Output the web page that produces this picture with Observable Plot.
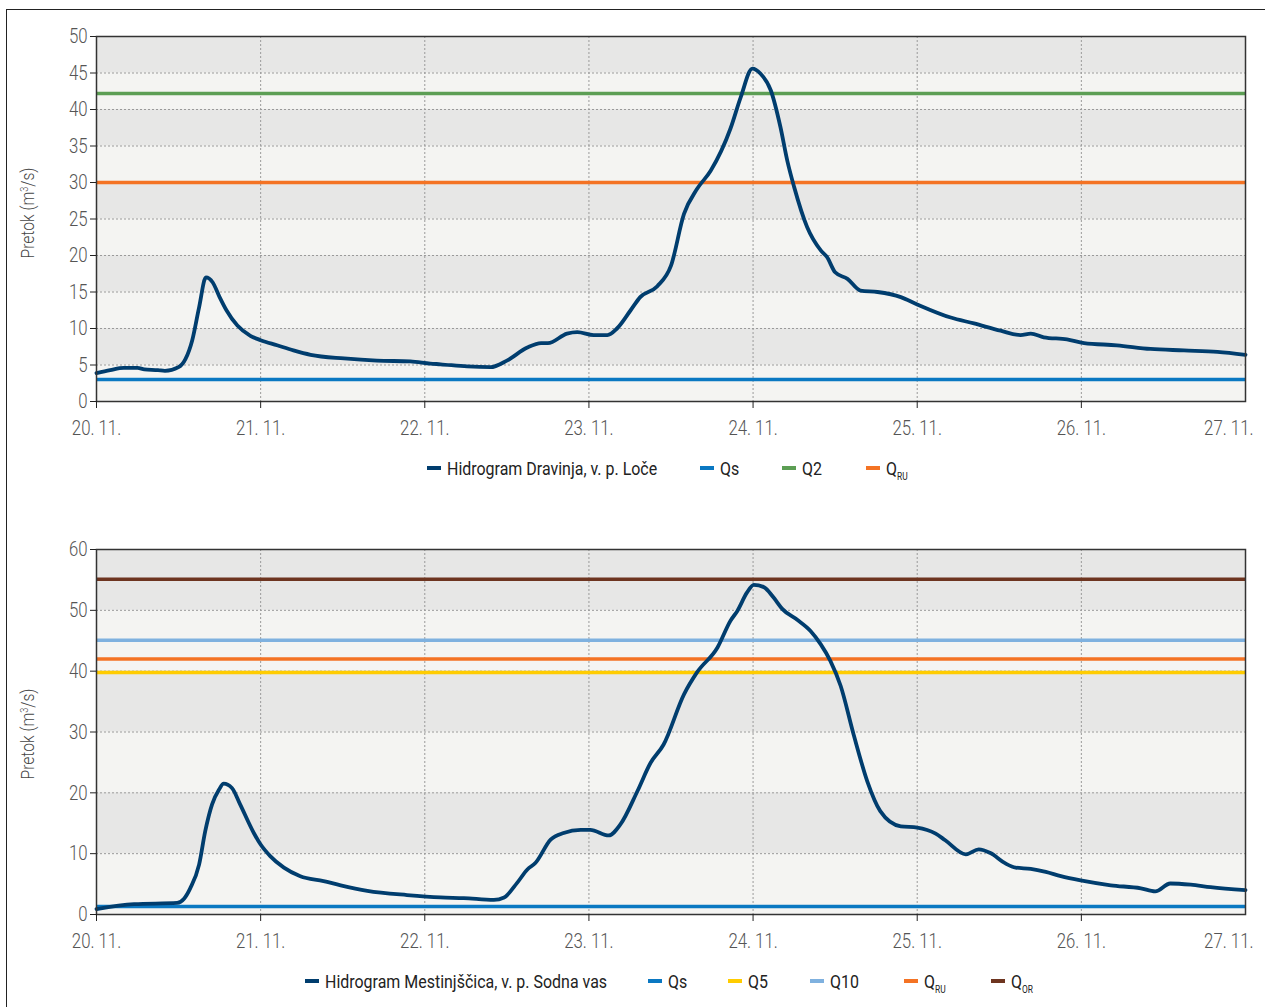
<!DOCTYPE html>
<html><head><meta charset="utf-8">
<script src="https://cdn.jsdelivr.net/npm/d3@7"></script>
<script src="https://cdn.jsdelivr.net/npm/@observablehq/plot@0.6"></script>
<style>
html,body{margin:0;padding:0;overflow:hidden;background:#fff;width:1265px;height:1007px}
body{font-family:Roboto,"DejaVu Sans Condensed",sans-serif;position:relative}
#frame{position:absolute;left:6px;top:9px;width:1320px;height:1100px;border:1.5px solid #222;box-sizing:border-box}
.chart{position:absolute;left:0}
.ylab{position:absolute;font-size:19px;font-weight:300;color:#444;transform:translate(-50%,-50%) rotate(-90deg) scaleX(0.82);white-space:nowrap}
.legend{position:absolute;left:0;width:1265px;height:24px;font-size:19px;color:#222;white-space:nowrap}
.item{position:absolute;top:0;height:24px;display:flex;align-items:center}
.sw{display:inline-block;width:14px;height:4px;margin-right:6px}
.tx{display:inline-block;transform:scaleX(0.84);transform-origin:left center}
sub{font-size:10px;vertical-align:-5px;line-height:0}
</style></head>
<body>
<div id="frame"></div>
<div id="c1" class="chart" style="top:0"></div>
<div id="c2" class="chart" style="top:513px"></div>
<div class="ylab" style="left:27px;top:213px">Pretok (m<sup style="font-size:11px;vertical-align:6px;line-height:0">3</sup>/s)</div>
<div class="ylab" style="left:27px;top:734px">Pretok (m<sup style="font-size:11px;vertical-align:6px;line-height:0">3</sup>/s)</div>
<div id="leg1" class="legend" style="top:456px"></div>
<div id="leg2" class="legend" style="top:969px"></div>
<script>
// ---- data ----
const dayLabels = ["20. 11.","21. 11.","22. 11.","23. 11.","24. 11.","25. 11.","26. 11.","27. 11."];
const dayTicks = [0,24,48,72,96,120,144,168]; // hours since 20.11. 00:00

// Dravinja, v. p. Loče
const drHours = [0,2,4,6,7,9,10,12,13,14,15,16,17,18,19,20.6,22.5,24,26.4,28.8,31.3,36.2,41,45.9,48.8,50.3,54.2,57.6,60,63,65,66,68.8,70.3,72.7,74.7,76.1,78.1,79.5,82,84,85.9,87.8,89.8,92.7,94.2,95.9,97.1,98.6,100,101,102,103.9,105.9,106.8,108,109.8,111.7,114.2,117.6,120,124.9,128.3,132.2,135.1,136.6,138.5,141.9,144.4,149.2,154.1,159,163.9,168];
const drQ     = [3.9,4.3,4.6,4.6,4.4,4.3,4.2,4.7,5.8,8.4,12.9,17.0,16.3,14.3,12.5,10.4,9.0,8.4,7.7,7.0,6.4,5.9,5.6,5.5,5.2,5.1,4.8,4.7,5.6,7.4,8.0,8.0,9.3,9.5,9.1,9.1,10.0,12.5,14.3,15.8,18.6,25.7,29.1,31.6,37.4,41.7,45.6,44.9,42.6,37.6,33.0,29.4,23.9,20.7,19.8,17.7,16.8,15.2,15.0,14.3,13.3,11.5,10.7,9.7,9.1,9.3,8.8,8.5,8.0,7.7,7.2,7.0,6.8,6.4];

// Mestinjščica, v. p. Sodna vas
const meHours = [0,5.5,11.8,12.8,13.7,15,15.9,16.9,17.9,18.6,19.8,21,23,24,25.4,27.4,29.8,33.2,35.7,39.6,45.4,50.3,53.7,58.1,59.6,61.5,63,64.2,66.4,68.3,70.8,72.2,74.9,76.6,79.1,81,82.9,85.9,87.8,90.8,92.7,93.7,95.1,96.1,97.6,99,100.3,102.5,104.4,105.9,107.3,108.8,110.7,112.7,114.6,117.6,120,122.7,124.1,127.1,129,130.7,132.9,134.4,136.6,138.8,141,143.9,148.3,152.7,154.8,157,160,162.9,168];
const meQ     = [0.9,1.7,1.9,2.6,4.3,8.2,13.7,18.1,20.5,21.5,20.8,18.1,13.4,11.5,9.6,7.7,6.3,5.5,4.8,3.9,3.2,2.8,2.7,2.4,2.8,5.2,7.4,8.5,12.3,13.4,13.9,13.9,13.0,14.8,20.3,24.9,27.9,36.2,39.8,43.9,48.3,49.9,52.9,54.2,53.8,52.1,50.2,48.4,46.6,44.4,41.7,37.6,29.6,21.9,17.0,14.5,14.3,13.3,12.2,9.9,10.7,10.1,8.4,7.7,7.5,7.0,6.3,5.6,4.8,4.3,3.8,5.1,4.9,4.5,4.0];

// thresholds
const topThrNames  = ["Qs","Q2","QRU"];
const topThrValues = [3.0, 42.2, 30.0];
const botThrNames  = ["Qs","Q5","Q10","QRU","QOR"];
const botThrValues = [1.3, 39.8, 45.1, 42.0, 55.1];

const yTicksTop = [0,5,10,15,20,25,30,35,40,45,50];
const yTicksBot = [0,10,20,30,40,50,60];

// ---- styles ----
const colors = {Hidro:"#003d6e", Qs:"#0a78c2", Q2:"#5c9e54", QRU:"#f47324", Q5:"#ffcc00", Q10:"#7fb1df", QOR:"#6e3520"};
const FONT = 'Roboto,"DejaVu Sans Condensed",sans-serif';
const fmtDay = (d) => dayLabels[dayTicks.indexOf(d)];

function chart(hours, q, yTicks, thrNames, thrValues) {
  const bands = yTicks.slice(0,-1).map((v,i)=>({y1:v, y2:yTicks[i+1], i})).filter(d => d.i % 2 === 1);
  const series = hours.map((h,i)=>({h, q:q[i]}));
  const thr = thrNames.map((n,i)=>({name:n, value:thrValues[i], color:colors[n]}));
  const lastTick = dayTicks[dayTicks.length-1];
  const svg = Plot.plot({
    width:1265, height:445,
    marginLeft:96, marginRight:20, marginTop:36, marginBottom:44,
    style:{fontFamily:FONT, fontSize:"21px", fontWeight:300, color:"#555", background:"transparent", overflow:"visible"},
    x:{domain:[0,168]},
    y:{domain:[0,yTicks[yTicks.length-1]]},
    marks:[
      Plot.frame({fill:"#f4f4f2"}),
      Plot.rect(bands, {x1:0, x2:168, y1:"y1", y2:"y2", fill:"#e7e7e6"}),
      Plot.gridY(yTicks, {stroke:"#9a9a9a", strokeOpacity:1, strokeDasharray:"2,2", strokeWidth:1}),
      Plot.gridX(dayTicks, {stroke:"#9a9a9a", strokeOpacity:1, strokeDasharray:"2,2", strokeWidth:1}),
      Plot.ruleY(thr, {y:"value", stroke:"color", strokeWidth:3.5}),
      Plot.line(series, {x:"h", y:"q", stroke:colors.Hidro, strokeWidth:3.8, curve:"monotone-x", strokeLinejoin:"round"}),
      Plot.frame({stroke:"#333", strokeWidth:1.5}),
      Plot.axisY(yTicks, {tickSize:6, tickPadding:3, label:null, stroke:"#222", fill:"#555"}),
      Plot.axisX(dayTicks.slice(0,-1), {tickSize:7, tickPadding:12, label:null, tickFormat:fmtDay, stroke:"#222", fill:"#555"}),
      Plot.axisX([lastTick], {tickSize:0, tickPadding:19, label:null, tickFormat:fmtDay, textAnchor:"end", dx:8, fill:"#555"})
    ]
  });
  // narrow the tick labels horizontally (condensed look)
  svg.querySelectorAll("text").forEach(t => {
    const tr = t.getAttribute("transform");
    if (tr && tr.includes("translate")) t.setAttribute("transform", tr + " scale(0.8,1)");
  });
  return svg;
}

document.getElementById("c1").append(chart(drHours, drQ, yTicksTop, topThrNames, topThrValues));
document.getElementById("c2").append(chart(meHours, meQ, yTicksBot, botThrNames, botThrValues));

// ---- legends ----
function label(n){
  if (n === "QRU") return 'Q<sub>RU</sub>';
  if (n === "QOR") return 'Q<sub>OR</sub>';
  return n;
}
function legend(id, items){
  const el = document.getElementById(id);
  for (const [left, key, text] of items){
    const d = document.createElement("div");
    d.className = "item";
    d.style.left = left + "px";
    d.innerHTML = `<span class="sw" style="background:${colors[key]}"></span><span class="tx">${text}</span>`;
    el.append(d);
  }
}
legend("leg1", [
  [427, "Hidro", "Hidrogram Dravinja, v. p. Loče"],
  [700, "Qs", label("Qs")],
  [782, "Q2", label("Q2")],
  [866, "QRU", label("QRU")]
]);
legend("leg2", [
  [305, "Hidro", "Hidrogram Mestinjščica, v. p. Sodna vas"],
  [648, "Qs", label("Qs")],
  [728, "Q5", label("Q5")],
  [810, "Q10", label("Q10")],
  [904, "QRU", label("QRU")],
  [991, "QOR", label("QOR")]
]);
</script>
</body></html>
